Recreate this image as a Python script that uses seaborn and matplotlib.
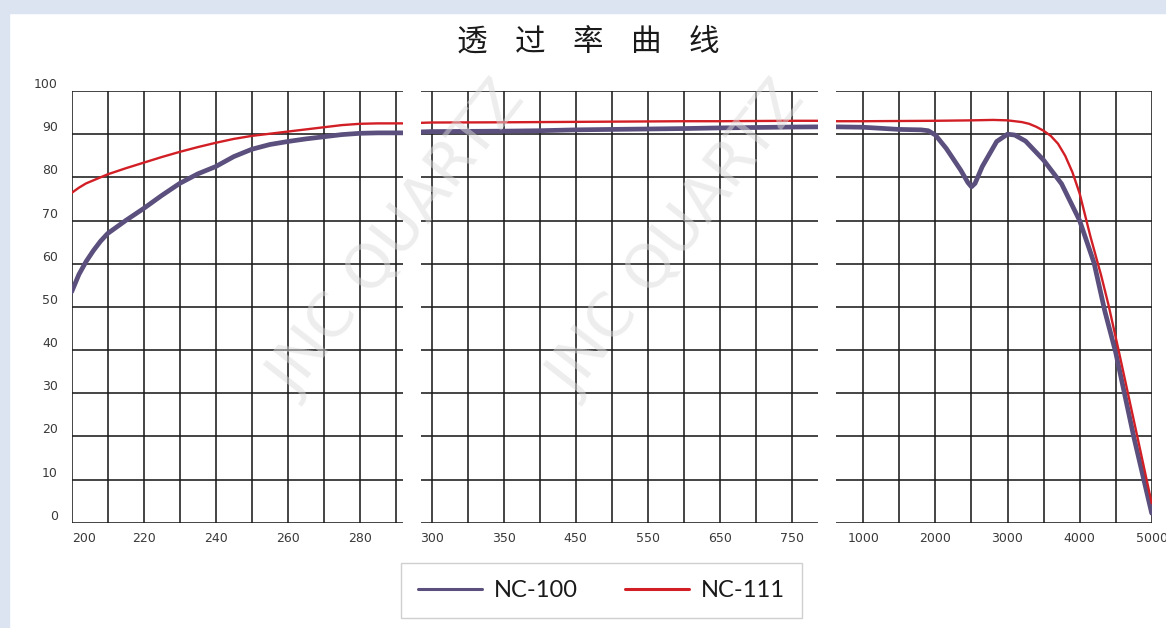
import numpy as np
import pandas as pd
import matplotlib
matplotlib.use("Agg")
import matplotlib.pyplot as plt
from matplotlib.transforms import ScaledTranslation
from matplotlib.patches import Rectangle
from matplotlib.ticker import FixedLocator
import seaborn as sns

# ---- data: transmittance (%) vs wavelength (nm) ----
series_names = ["NC-100", "NC-111"]
series_colors = {"NC-100": "#5b4f7d", "NC-111": "#d21f26"}
series_widths = {"NC-100": 3.4, "NC-111": 1.7}

# UV segment
uv_nm = [200, 202, 204, 206, 208, 210, 215, 220, 225, 230, 235, 240, 245,
         250, 255, 260, 265, 270, 275, 280, 285, 292]
uv_nc100 = [53.5, 57.5, 60.5, 63.0, 65.2, 67.0, 70.0, 72.8, 75.8, 78.6, 80.8,
            82.5, 84.8, 86.5, 87.6, 88.3, 88.9, 89.4, 89.9, 90.2, 90.3, 90.3]
uv_nc111 = [76.4, 77.6, 78.6, 79.3, 80.0, 80.7, 82.1, 83.4, 84.7, 85.9, 87.0,
            88.0, 88.9, 89.6, 90.1, 90.6, 91.1, 91.6, 92.1, 92.4, 92.5, 92.5]

# visible segment
vis_nm = [290, 300, 350, 400, 450, 500, 550, 600, 650, 700, 750, 800]
vis_nc100 = [90.5, 90.6, 90.7, 90.8, 91.0, 91.1, 91.2, 91.3, 91.45, 91.55, 91.65, 91.7]
vis_nc111 = [92.6, 92.7, 92.75, 92.8, 92.85, 92.9, 92.95, 93.0, 93.0, 93.05, 93.1, 93.1]

# IR segment
ir_nm_nc100 = [600, 1000, 1500, 1800, 1900, 2000, 2150, 2350, 2450, 2500, 2550,
               2650, 2850, 3000, 3100, 3250, 3500, 3750, 4000, 4200, 4350, 4500,
               4750, 5000]
ir_nc100 = [91.7, 91.6, 91.1, 91.0, 90.8, 89.8, 86.7, 81.7, 78.8, 77.8, 78.6,
            82.5, 88.3, 90.0, 89.8, 88.4, 84.0, 78.5, 70.0, 60.2, 49.0, 39.5,
            20.0, 2.2]
ir_nm_nc111 = [600, 1000, 1500, 2000, 2500, 2800, 3000, 3200, 3300, 3400, 3500,
               3600, 3700, 3800, 3900, 4000, 4150, 4300, 4400, 4540, 4800, 5000]
ir_nc111 = [93.0, 93.0, 93.05, 93.1, 93.2, 93.3, 93.2, 92.8, 92.4, 91.7, 90.8,
            89.6, 87.8, 85.0, 81.2, 76.3, 66.3, 57.2, 50.5, 40.0, 20.0, 4.5]

uv_labels = ["200", "220", "240", "260", "280"]
vis_labels = ["300", "350", "450", "550", "650", "750"]
ir_labels = ["1000", "2000", "3000", "4000", "5000"]
y_labels = ["0", "10", "20", "30", "40", "50", "60", "70", "80", "90", "100"]

title_text = "透    过    率    曲    线"


def frame(nm, nc100, nc111, nm111=None):
    nm111 = nm if nm111 is None else nm111
    a = pd.DataFrame({"nm": nm, "T": nc100, "series": "NC-100"})
    b = pd.DataFrame({"nm": nm111, "T": nc111, "series": "NC-111"})
    return pd.concat([a, b], ignore_index=True)


uv_df = frame(uv_nm, uv_nc100, uv_nc111)
vis_df = frame(vis_nm, vis_nc100, vis_nc111)
ir_df = frame(ir_nm_nc100, ir_nc100, ir_nc111, ir_nm_nc111)

# ---- figure ----
sns.set_style("white")
plt.rcParams["font.family"] = ["DejaVu Sans", "Noto Sans CJK SC"]

W, H = 1166, 628
fig = plt.figure(figsize=(W / 100, H / 100), dpi=100)
fig.patch.set_facecolor("white")

page_blue = "#dbe4f0"
fig.add_artist(Rectangle((0, 0), 9 / W, 1, transform=fig.transFigure,
                         color=page_blue, zorder=0))
fig.add_artist(Rectangle((0, 1 - 13 / H), 1, 13 / H, transform=fig.transFigure,
                         color=page_blue, zorder=0))

bottom = 1 - 522.7 / H
height = (522.7 - 91) / H
ax1 = fig.add_axes([71.7 / W, bottom, 331.3 / W, height])
ax2 = fig.add_axes([421 / W, bottom, 397 / W, height])
ax3 = fig.add_axes([835.7 / W, bottom, 316 / W, height])


# visible axis: 300-350 spans two cells, then one cell per 50 nm
def vis_fwd(x):
    x = np.asarray(x, dtype=float)
    return np.where(x < 350, (x - 300) / 25.0, 2 + (x - 350) / 50.0)


def vis_inv(u):
    u = np.asarray(u, dtype=float)
    return np.where(u < 2, 300 + 25.0 * u, 350 + 50.0 * (u - 2))


ax2.set_xscale("function", functions=(vis_fwd, vis_inv))

for ax, df in ((ax1, uv_df), (ax2, vis_df), (ax3, ir_df)):
    for name in series_names:
        sub = df[df["series"] == name]
        sns.lineplot(data=sub, x="nm", y="T", ax=ax, color=series_colors[name],
                     linewidth=series_widths[name], label=name, legend=False,
                     solid_joinstyle="round", solid_capstyle="round",
                     zorder=3 if name == "NC-111" else 2)

grid_kw = dict(color="#1c1c1c", linewidth=1.15)
ax1.set_xlim(200, 292)
ax1.set_xticks([int(v) for v in uv_labels])
ax1.set_xticklabels(uv_labels)
ax1.xaxis.set_minor_locator(FixedLocator(np.arange(210, 291, 20)))

ax2.set_xlim(292.6, 786.5)
ax2.set_xticks([int(v) for v in vis_labels])
ax2.set_xticklabels(vis_labels)
ax2.xaxis.set_minor_locator(FixedLocator([325, 400, 500, 600, 700]))

ax3.set_xlim(617, 5000)
ax3.set_xticks([int(v) for v in ir_labels])
ax3.set_xticklabels(ir_labels)
ax3.xaxis.set_minor_locator(FixedLocator(np.arange(1500, 4600, 1000)))

for ax in (ax1, ax2, ax3):
    ax.set_ylim(0, 100)
    ax.set_yticks([int(v) for v in y_labels])
    ax.set_xlabel("")
    ax.set_ylabel("")
    ax.set_facecolor("none")
    for s in ax.spines.values():
        s.set_visible(False)
    ax.grid(True, which="both", **grid_kw)
    ax.set_axisbelow(True)
    ax.tick_params(axis="both", which="both", length=0, labelsize=9,
                   labelcolor="#3a3a3a")
    ax.tick_params(axis="x", pad=7)

ax1.set_yticklabels(y_labels)
ax1.tick_params(axis="y", pad=10)
ax2.set_yticklabels([])
ax3.set_yticklabels([])

# y labels sit a little above their grid lines
lift = ScaledTranslation(0, 8 / 100, fig.dpi_scale_trans)
for t in ax1.yaxis.get_major_ticks():
    t.label1.set_transform(t.label1.get_transform() + lift)
ax1.get_xticklabels()[0].set_horizontalalignment("left")

# title
fig.text(588 / W, 1 - 42 / H, title_text, ha="center", va="center",
         fontsize=22, color="#1a1a1a", family=["Noto Sans CJK SC", "DejaVu Sans"])

# legend
handles = [plt.Line2D([], [], color=series_colors[n], linewidth=2.2) for n in series_names]
leg = fig.legend(handles, series_names, loc="center",
                 bbox_to_anchor=(601.5 / W, 1 - 590.5 / H), ncol=2,
                 frameon=True, fancybox=False, edgecolor="#c4c4c4",
                 prop={"family": "Lato", "size": 17}, handlelength=2.7,
                 handletextpad=0.5, columnspacing=2.0, borderpad=0.72,
                 borderaxespad=0)
leg.get_frame().set_linewidth(1.0)
for txt in leg.get_texts():
    txt.set_color("#1a1a1a")

# watermark
for cx, cy in ((398, 240), (678, 240)):
    fig.text(cx / W, 1 - cy / H, "JNC QUARTZ", rotation=52, ha="center",
             va="center", rotation_mode="anchor", fontsize=44, color="#dcdcdc",
             alpha=0.5, zorder=20, family="DejaVu Sans")

fig.savefig("out.png", dpi=100, facecolor=fig.get_facecolor())
